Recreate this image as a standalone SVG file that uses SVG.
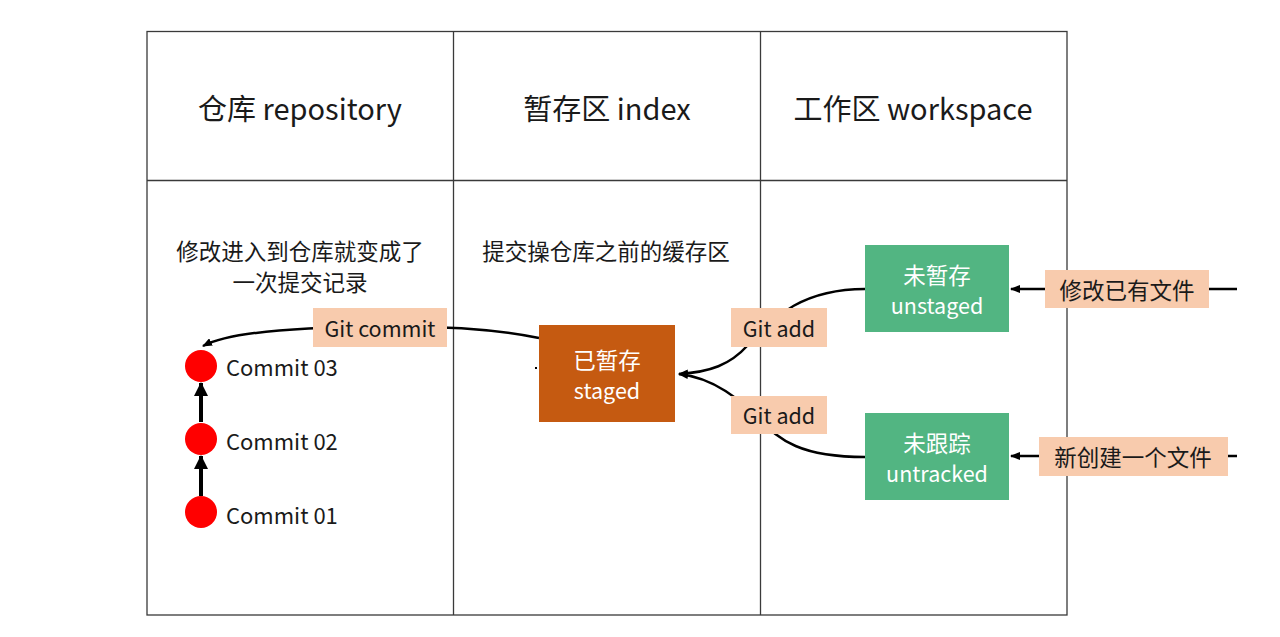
<svg xmlns="http://www.w3.org/2000/svg" width="1280" height="637" viewBox="0 0 1280 637">
<style>
text{font-family:"Noto Sans CJK SC","Microsoft YaHei",sans-serif;fill:#1a1a1a;dominant-baseline:central}
.hd{font-size:29px;text-anchor:middle}
.bd{font-size:22.5px;text-anchor:middle}
.lb{font-size:21.5px;text-anchor:middle}
.cm{font-size:22px;text-anchor:start}
.w{fill:#ffffff}
.grid{stroke:#3a3a3a;stroke-width:1.3;fill:none}
.edge{stroke:#000;stroke-width:2.5;fill:none}
.thick{stroke:#000;stroke-width:4;fill:none}
.tag{fill:#F8CBAD}
.green{fill:#52B582}
</style>
<defs>
<marker id="ah" markerWidth="10" markerHeight="8" refX="9" refY="4" orient="auto" markerUnits="userSpaceOnUse">
<path d="M0,0 L10,4 L0,8 Z" fill="#000"/>
</marker>
<marker id="ahb" markerWidth="14" markerHeight="14" refX="13" refY="7" orient="auto" markerUnits="userSpaceOnUse">
<path d="M0,0 L14,7 L0,14 Z" fill="#000"/>
</marker>
</defs>
<rect width="1280" height="637" fill="#fff"/>
<g id="table">
<rect class="grid" x="147" y="31.5" width="920" height="583.5"/>
<line class="grid" x1="147" y1="180.5" x2="1067" y2="180.5"/>
<line class="grid" x1="453.5" y1="31.5" x2="453.5" y2="615"/>
<line class="grid" x1="760.5" y1="31.5" x2="760.5" y2="615"/>
<text class="hd" x="300" y="107">仓库 repository</text>
<text class="hd" x="607" y="107">暂存区 index</text>
<text class="hd" x="913" y="107">工作区 workspace</text>
<text class="bd" x="300" y="250">修改进入到仓库就变成了</text>
<text class="bd" x="300" y="281">一次提交记录</text>
<text class="bd" x="606" y="250">提交操仓库之前的缓存区</text>
</g>
<g id="connectors">
<path class="edge" d="M539,338 C480,326 420,326 380,327 C300,327 230,332 203,346" marker-end="url(#ah)"/>
<line class="thick" x1="201" y1="422" x2="201" y2="383" marker-end="url(#ahb)"/>
<line class="thick" x1="201" y1="496" x2="201" y2="456" marker-end="url(#ahb)"/>
<path class="edge" d="M865,289 C790,289 765,330 748,345 C730,365 710,372 679,374" marker-end="url(#ah)"/>
<path class="edge" d="M865,457 C800,457 780,440 760,420 C740,400 715,378 679,374" marker-end="url(#ah)"/>
<line class="edge" x1="1237" y1="289" x2="1011" y2="289" marker-end="url(#ah)"/>
<line class="edge" x1="1237" y1="456" x2="1011" y2="456" marker-end="url(#ah)"/>
<rect x="535" y="367" width="2" height="2" fill="#000"/>
</g>
<g id="lbl-commit">
<rect class="tag" x="313" y="308" width="134" height="39"/>
<text class="lb" x="380" y="327">Git commit</text>
</g>
<g id="lbl-add1">
<rect class="tag" x="731" y="308" width="96" height="39"/>
<text class="lb" x="779" y="327">Git add</text>
</g>
<g id="lbl-add2">
<rect class="tag" x="731" y="396" width="96" height="38"/>
<text class="lb" x="779" y="414">Git add</text>
</g>
<g id="lbl-modify">
<rect class="tag" x="1045" y="270" width="164" height="38"/>
<text class="bd" x="1127" y="289">修改已有文件</text>
</g>
<g id="lbl-new">
<rect class="tag" x="1039" y="437" width="189" height="39"/>
<text class="bd" x="1133" y="456">新创建一个文件</text>
</g>
<g id="commit03">
<circle cx="201" cy="366" r="16" fill="#FF0000"/>
<text class="cm" x="226" y="366">Commit 03</text>
</g>
<g id="commit02">
<circle cx="201" cy="439" r="16" fill="#FF0000"/>
<text class="cm" x="226" y="440">Commit 02</text>
</g>
<g id="commit01">
<circle cx="201" cy="512" r="16" fill="#FF0000"/>
<text class="cm" x="226" y="514">Commit 01</text>
</g>
<g id="staged">
<rect x="539" y="325" width="136" height="97" fill="#C55A11"/>
<text class="bd w" x="607" y="359">已暂存</text>
<text class="lb w" x="607" y="389">staged</text>
</g>
<g id="unstaged">
<rect class="green" x="865" y="245" width="144" height="87"/>
<text class="bd w" x="937" y="274">未暂存</text>
<text class="lb w" x="937" y="304">unstaged</text>
</g>
<g id="untracked">
<rect class="green" x="865" y="413" width="144" height="87"/>
<text class="bd w" x="937" y="442">未跟踪</text>
<text class="lb w" x="937" y="472">untracked</text>
</g>
</svg>
